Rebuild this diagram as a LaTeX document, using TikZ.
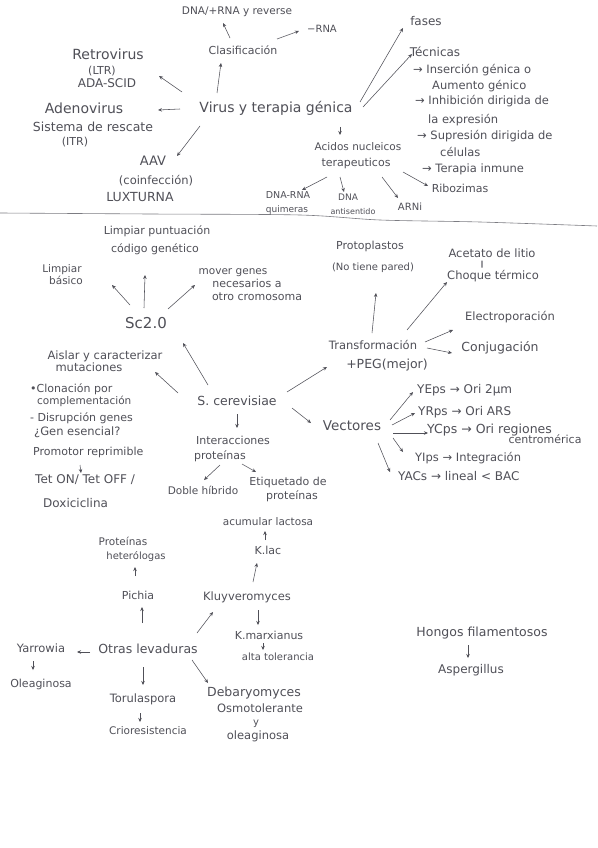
\documentclass[tikz,border=0pt]{standalone}
\usepackage{fontspec}
\setmainfont{DejaVu Sans}
\usetikzlibrary{arrows.meta}
\definecolor{pencil}{RGB}{80,80,88}
\begin{document}
\begin{tikzpicture}[x=1pt,y=-1pt,
  t/.style={font=\fontsize{#1}{#1}\selectfont, text=pencil, inner sep=0pt, text height=#1pt*0.72, text depth=#1pt*0.2},
  ar/.style={draw=pencil, line width=0.55pt, -{Stealth[length=4pt,width=3.5pt]}},
  sepline/.style={draw=pencil!75, line width=0.6pt}]
\fill[white] (0,0) rectangle (597,848);
\useasboundingbox (0,0) rectangle (597,848);

% ---------- top part: virus y terapia genica ----------
\node[t=10.5] (dnarna) at (237,12) {DNA/+RNA y reverse};
\node[t=10] (mrna) at (322,30) {−RNA};
\node[t=11] (clasif) at (243,52) {Clasificación};
\node[t=14] (retro) at (108,56) {Retrovirus};
\node[t=11] (ltr) at (102,72) {(LTR)};
\node[t=12] (ada) at (107,84) {ADA-SCID};
\node[t=14] (adeno) at (84,110) {Adenovirus};
\node[t=12.5] (adeno2) at (93,128) {Sistema de rescate};
\node[t=11] (adeno3) at (75,143) {(ITR)};
\node[t=14] (virus) at (276,109) {Virus y terapia génica};
\node[t=13] (aav) at (153,162) {AAV};
\node[t=11.5] (coinf) at (156,182) {(coinfección)};
\node[t=12.5] (lux) at (140,198) {LUXTURNA};
\node[t=12] (fases) at (426,22) {fases};
\node[t=12] (tecn) at (435,53) {Técnicas};
\node[t=11.5, anchor=west] (t1) at (413,71) {→ Inserción génica o};
\node[t=11.5, anchor=west] (t2) at (432,87) {Aumento génico};
\node[t=11.5, anchor=west] (t3) at (415,102) {→ Inhibición dirigida de};
\node[t=11.5, anchor=west] (t4) at (428,121) {la expresión};
\node[t=11.5, anchor=west] (t5) at (417,137) {→ Supresión dirigida de};
\node[t=11.5, anchor=west] (t6) at (440,154) {células};
\node[t=11.5, anchor=west] (t7) at (422,170) {→ Terapia inmune};
\node[t=10.5] (acid1) at (358,148) {Acidos nucleicos};
\node[t=11] (acid2) at (356,164) {terapeuticos};
\node[t=11] (ribo) at (460,190) {Ribozimas};
\node[t=9.5] (dr1) at (288,196) {DNA-RNA};
\node[t=9] (dr2) at (287,210) {quimeras};
\node[t=9] (da1) at (348,198) {DNA};
\node[t=8] (da2) at (353,212) {antisentido};
\node[t=10] (arni) at (410,208) {ARNi};

\draw[ar] ([shift={(-13,-14)}]clasif.center) -- ([shift={(-14,11)}]dnarna.center);
\draw[ar] ([shift={(34,-13)}]clasif.center) -- ([shift={(-23,1)}]mrna.center);
\draw[ar] ([shift={(-59,-16)}]virus.center) -- ([shift={(-22,11)}]clasif.center);
\draw[ar] ([shift={(-94,-17)}]virus.center) -- ([shift={(51,20)}]retro.center);
\draw[ar] ([shift={(-96,0)}]virus.center) -- ([shift={(74,0)}]adeno.center);
\draw[ar] ([shift={(-76,17)}]virus.center) -- ([shift={(24,-6)}]aav.center);
\draw[ar] ([shift={(84,-7)}]virus.center) -- ([shift={(-23,6)}]fases.center);
\draw[ar] ([shift={(87,-2)}]virus.center) -- ([shift={(-23,1)}]tecn.center);
\draw[ar] ([shift={(64,18)}]virus.center) -- ([shift={(-18,-13)}]acid1.center);
\draw[ar] ([shift={(-29,13)}]acid2.center) -- ([shift={(14,-6)}]dr1.center);
\draw[ar] ([shift={(-16,13)}]acid2.center) -- ([shift={(-4,-6)}]da1.center);
\draw[ar] ([shift={(26,13)}]acid2.center) -- ([shift={(-12,-10)}]arni.center);
\draw[ar] ([shift={(47,8)}]acid2.center) -- ([shift={(-32,-4)}]ribo.center);

% separator
\draw[sepline] plot[smooth] coordinates {(0,213) (150,214) (300,215) (380,220) (480,222) (597,226)};

% ---------- middle part: S. cerevisiae ----------
\node[t=11] (limpp1) at (157,232) {Limpiar puntuación};
\node[t=11] (limpp2) at (155,250) {código genético};
\node[t=10.5] (lb1) at (62,270) {Limpiar};
\node[t=10.5] (lb2) at (66,282) {básico};
\node[t=10.5] (mv1) at (233,272) {mover genes};
\node[t=11] (mv2) at (247,285) {necesarios a};
\node[t=11] (mv3) at (257,298) {otro cromosoma};
\node[t=15] (sc) at (146,325) {Sc2.0};
\node[t=11.5] (ais1) at (105,357) {Aislar y caracterizar};
\node[t=11.5] (ais2) at (89,369) {mutaciones};
\node[t=11, anchor=west] (cl1) at (30,390) {•Clonación por};
\node[t=10.5, anchor=west] (cl2) at (37,402) {complementación};
\node[t=11, anchor=west] (dis) at (30,419) {- Disrupción genes};
\node[t=11.5, anchor=west] (gen) at (34,433) {¿Gen esencial?};
\node[t=11, anchor=west] (promo) at (33,453) {Promotor reprimible};
\node[t=12, anchor=west] (tet) at (35,480) {Tet ON/ Tet OFF /};
\node[t=12, anchor=west] (doxi) at (43,504) {Doxiciclina};
\node[t=12.5] (scer) at (237,402) {S. cerevisiae};
\node[t=11] (int1) at (233,442) {Interacciones};
\node[t=11] (int2) at (220,457) {proteínas};
\node[t=10.5] (doble) at (203,492) {Doble híbrido};
\node[t=11] (et1) at (288,483) {Etiquetado de};
\node[t=11] (et2) at (292,497) {proteínas};
\node[t=11] (proto1) at (370,247) {Protoplastos};
\node[t=10] (proto2) at (373,268) {(No tiene pared)};
\node[t=11.5] (acet) at (492,255) {Acetato de litio};
\node[t=7] (eq) at (482,265) {‖};
\node[t=11.5] (choque) at (493,277) {Choque térmico};
\node[t=11.5] (electro) at (510,318) {Electroporación};
\node[t=12.5] (conj) at (500,348) {Conjugación};
\node[t=11.5] (transf) at (373,347) {Transformación};
\node[t=12.5] (peg) at (387,365) {+PEG(mejor)};
\node[t=13.5] (vect) at (352,427) {Vectores};
\node[t=12, anchor=west] (yeps) at (417,390) {YEps → Ori 2μm};
\node[t=12, anchor=west] (yrps) at (418,412) {YRps → Ori ARS};
\node[t=12.5, anchor=west] (ycps) at (427,430) {YCps → Ori regiones};
\node[t=11] (centro) at (545,441) {centromérica};
\node[t=11.5, anchor=west] (yips) at (415,459) {YIps → Integración};
\node[t=12, anchor=west] (yacs) at (398,477) {YACs → lineal < BAC};

\draw[ar] ([shift={(-16,-20)}]sc.center) -- ([shift={(46,3)}]lb2.center);
\draw[ar] ([shift={(-2,-17)}]sc.center) -- ([shift={(-10,25)}]limpp2.center);
\draw[ar] ([shift={(22,-16)}]sc.center) -- ([shift={(-52,0)}]mv2.center);
\draw[ar] ([shift={(-29,-17)}]scer.center) -- ([shift={(37,18)}]sc.center);
\draw[ar] ([shift={(-59,-9)}]scer.center) -- ([shift={(66,3)}]ais2.center);
\draw[ar] ([shift={(47,12)}]promo.west) -- ([shift={(46,-7)}]tet.west);
\draw[ar] ([shift={(0,12)}]scer.center) -- ([shift={(4,-14)}]int1.center);
\draw[ar] ([shift={(0,8)}]int2.center) -- ([shift={(1,-12)}]doble.center);
\draw[ar] ([shift={(22,7)}]int2.center) -- ([shift={(-32,-11)}]et1.center);
\draw[ar] ([shift={(50,-10)}]scer.center) -- ([shift={(-46,20)}]transf.center);
\draw[ar] ([shift={(55,6)}]scer.center) -- ([shift={(-41,-4)}]vect.center);
\draw[ar] ([shift={(-1,-14)}]transf.center) -- ([shift={(3,25)}]proto2.center);
\draw[ar] ([shift={(34,-17)}]transf.center) -- ([shift={(-46,5)}]choque.center);
\draw[ar] ([shift={(52,-5)}]transf.center) -- ([shift={(-57,12)}]electro.center);
\draw[ar] ([shift={(54,1)}]transf.center) -- ([shift={(-48,5)}]conj.center);
\draw[ar] ([shift={(38,-7)}]vect.center) -- ([shift={(-4,2)}]yeps.west);
\draw[ar] ([shift={(40,-2)}]vect.center) -- ([shift={(-3,1)}]yrps.west);
\draw[ar] ([shift={(41,6)}]vect.center) -- ([shift={(1,3)}]ycps.west);
\draw[ar] ([shift={(41,11)}]vect.center) -- ([shift={(-12,-7)}]yips.west);
\draw[ar] ([shift={(26,16)}]vect.center) -- ([shift={(-8,-5)}]yacs.west);

% ---------- bottom part: otras levaduras ----------
\node[t=10.5] (acum) at (268,523) {acumular lactosa};
\node[t=11] (klac) at (268,552) {K.lac};
\node[t=10.5] (prot1) at (123,543) {Proteínas};
\node[t=10] (prot2) at (136,557) {heterólogas};
\node[t=11] (pichia) at (138,597) {Pichia};
\node[t=11.5] (kluy) at (247,598) {Kluyveromyces};
\node[t=11] (kmarx) at (269,637) {K.marxianus};
\node[t=10] (alta) at (278,658) {alta tolerancia};
\node[t=11.5] (yarr) at (41,650) {Yarrowia};
\node[t=12.5] (otras) at (148,650) {Otras levaduras};
\node[t=11] (oleag) at (41,685) {Oleaginosa};
\node[t=11.5] (torul) at (143,700) {Torulaspora};
\node[t=10.5] (crio) at (148,732) {Crioresistencia};
\node[t=12.5] (deba) at (254,693) {Debaryomyces};
\node[t=11.5] (osmo) at (260,710) {Osmotolerante};
\node[t=10] (yy) at (256,723) {y};
\node[t=11.5] (oleag2) at (258,737) {oleaginosa};
\node[t=12.5] (hongos) at (482,633) {Hongos filamentosos};
\node[t=12] (asper) at (471,670) {Aspergillus};

\draw[ar] ([shift={(-3,-12)}]klac.center) -- ([shift={(-3,8)}]acum.center);
\draw[ar] ([shift={(6,-16)}]kluy.center) -- ([shift={(-11,11)}]klac.center);
\draw[ar] ([shift={(11,12)}]kluy.center) -- ([shift={(-11,-12)}]kmarx.center);
\draw[ar] ([shift={(-6,6)}]kmarx.center) -- ([shift={(-15,-8)}]alta.center);
\draw[ar] ([shift={(49,-17)}]otras.center) -- ([shift={(-34,14)}]kluy.center);
\draw[ar] ([shift={(-6,-27)}]otras.center) -- ([shift={(4,10)}]pichia.center);
\draw[ar] ([shift={(-3,-21)}]pichia.center) -- ([shift={(-1,10)}]prot2.center);
\draw[ar] ([shift={(-58,2)}]otras.center) -- ([shift={(36,2)}]yarr.center);
\draw[ar] ([shift={(-8,11)}]yarr.center) -- ([shift={(-8,-15)}]oleag.center);
\draw[ar] ([shift={(-5,17)}]otras.center) -- ([shift={(0,-15)}]torul.center);
\draw[ar] ([shift={(-3,13)}]torul.center) -- ([shift={(-8,-10)}]crio.center);
\draw[ar] ([shift={(44,10)}]otras.center) -- ([shift={(-46,-10)}]deba.center);
\draw[ar] ([shift={(-14,12)}]hongos.center) -- ([shift={(-3,-12)}]asper.center);
\end{tikzpicture}
\end{document}
